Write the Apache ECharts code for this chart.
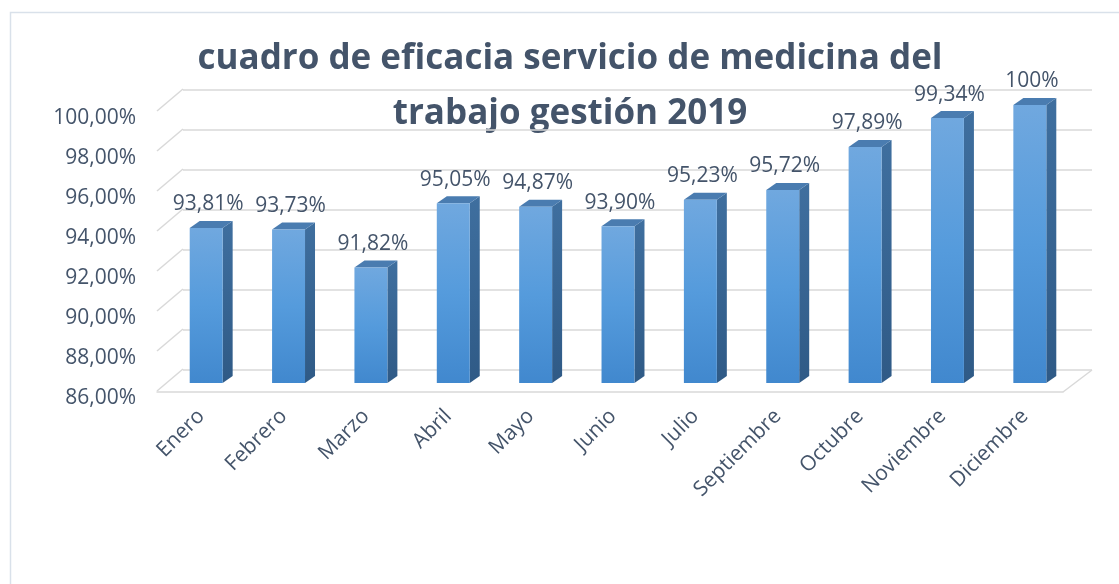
<!DOCTYPE html>
<html>
<head>
<meta charset="utf-8">
<script src="https://cdn.jsdelivr.net/npm/echarts@6/dist/echarts.min.js"></script>
<style>
  html, body { margin: 0; padding: 0; background: #fff; }
  #chart { width: 1119px; height: 584px; }
</style>
</head>
<body>
<div id="chart"></div>
<script>
    // datos del cuadro
    var meses = ['Enero', 'Febrero', 'Marzo', 'Abril', 'Mayo', 'Junio', 'Julio',
        'Septiembre', 'Octubre', 'Noviembre', 'Diciembre'];
    var eficacia = [93.81, 93.73, 91.82, 95.05, 94.87, 93.90, 95.23, 95.72, 97.89, 99.34, 100];
    var ticks = [86, 88, 90, 92, 94, 96, 98, 100];
    var yMin = 86, yMax = 100;

    var textColor = '#44546a';
    var font = 'Open Sans';

    var fmtPct = function (v) {
        if (v === 100) return '100%';
        return v.toFixed(2).replace('.', ',') + '%';
    };

    // barras en 3D (cara frontal, lateral y superior)
    var renderBar = function (params, api) {
        var x = api.value(0), v = api.value(1);
        var top = api.coord([x, v]);
        var base = api.coord([x, yMin]);
        var w = api.size([1, 0])[0] * 0.4;
        var l = top[0] - w / 2, r = top[0] + w / 2;
        var dx = 10, dy = -7;
        return {
            type: 'group',
            children: [
                {
                    type: 'polygon',
                    shape: {points: [[r, top[1]], [r + dx, top[1] + dy], [r + dx, base[1] + dy], [r, base[1]]]},
                    style: {fill: new echarts.graphic.LinearGradient(0, 0, 0, 1, [
                        {offset: 0, color: '#3f6f9f'}, {offset: 1, color: '#2f5a86'}])}
                },
                {
                    type: 'polygon',
                    shape: {points: [[l, top[1]], [r, top[1]], [r + dx, top[1] + dy], [l + dx, top[1] + dy]]},
                    style: {fill: '#4a7cb0'}
                },
                {
                    type: 'rect',
                    shape: {x: l, y: top[1], width: w, height: base[1] - top[1]},
                    style: {fill: new echarts.graphic.LinearGradient(0, 0, 0, 1, [
                        {offset: 0, color: '#70a8df'}, {offset: 0.5, color: '#559bdc'}, {offset: 1, color: '#4188ce'}])}
                },
                {
                    type: 'text',
                    style: {
                        x: top[0] + 2, y: top[1] + dy - 6,
                        text: fmtPct(v),
                        fill: textColor, font: '21px "' + font + '"',
                        align: 'center', verticalAlign: 'bottom'
                    }
                }
            ]
        };
    };

    // diagonales entre etiquetas y pared del fondo
    var renderDiag = function (params, api) {
        var p = api.coord([0, api.value(0)]);
        var q = params.coordSys;
        return {
            type: 'line',
            shape: {x1: q.x, y1: p[1] - 1, x2: q.x + 26, y2: p[1] - 23},
            style: {stroke: '#d9d9d9', lineWidth: 1.5}
        };
    };

    var renderFloorEdge = function (params, api) {
        var q = params.coordSys;
        return {
            type: 'line',
            shape: {x1: q.x + q.width, y1: q.y + q.height, x2: q.x + q.width + 29, y2: q.y + q.height - 22},
            style: {stroke: '#d9d9d9', lineWidth: 1.5}
        };
    };

    var option = {
        backgroundColor: '#fff',
        animation: false,
        graphic: [
            {
                type: 'rect', left: 8, top: 10, silent: true,
                shape: {width: 1200, height: 700},
                style: {fill: 'none', stroke: '#d9e1ea', lineWidth: 1.5}
            },
            {
                type: 'text', x: 570, y: 32, silent: true,
                style: {
                    text: 'cuadro de eficacia servicio de medicina del\ntrabajo gestión 2019',
                    fill: textColor, font: 'bold 35px "' + font + '"',
                    align: 'center', lineHeight: 55
                }
            }
        ],
        grid: [
            // pared del fondo
            {left: 183, right: 27, top: 90, bottom: 214},
            // borde del suelo
            {left: 157, right: 56, top: 112, bottom: 192},
            // barras
            {left: 165, right: 48, top: 105, bottom: 201},
            // etiquetas del eje vertical
            {left: 157, right: 56, top: 118, bottom: 186}
        ],
        xAxis: [
            {gridIndex: 0, type: 'category', data: meses, show: false},
            {gridIndex: 1, type: 'value', min: 0, max: 1, axisLabel: {show: false}, axisTick: {show: false},
                splitLine: {show: false}, axisLine: {show: true, onZero: false, lineStyle: {color: '#d9d9d9', width: 1.5}}},
            {gridIndex: 2, type: 'category', data: meses,
                axisLine: {show: false}, axisTick: {show: false},
                axisLabel: {rotate: 45, margin: 25, padding: [0, 7, 0, 0], color: textColor, fontSize: 21, fontFamily: font, interval: 0}},
            {gridIndex: 3, type: 'value', show: false}
        ],
        yAxis: [
            {gridIndex: 0, type: 'value', min: yMin, max: yMax, interval: 2,
                axisLabel: {show: false}, axisLine: {show: false}, axisTick: {show: false},
                splitLine: {lineStyle: {color: '#d9d9d9', width: 1.5}}},
            {gridIndex: 1, type: 'value', min: yMin, max: yMax, interval: 2, show: false},
            {gridIndex: 2, type: 'value', min: yMin, max: yMax, show: false},
            {gridIndex: 3, type: 'value', min: yMin, max: yMax, interval: 2,
                axisLine: {show: false}, axisTick: {show: false}, splitLine: {show: false},
                axisLabel: {margin: 21, color: textColor, fontSize: 21, fontFamily: font,
                    formatter: function (v) { return v.toFixed(2).replace('.', ',') + '%'; }}}
        ],
        series: [
            {type: 'custom', xAxisIndex: 1, yAxisIndex: 1, renderItem: renderDiag, data: ticks.map(function (t) { return [t]; }), encode: {y: 0}, silent: true},
            {type: 'custom', xAxisIndex: 1, yAxisIndex: 1, renderItem: renderFloorEdge, data: [[yMin]], encode: {y: 0}, silent: true},
            {type: 'custom', xAxisIndex: 2, yAxisIndex: 2, renderItem: renderBar,
                data: eficacia.map(function (v, i) { return [i, v]; }), encode: {x: 0, y: 1}, z: 5}
        ]
    };

    var chart = echarts.init(document.getElementById('chart'));
    chart.setOption(option);
</script>
</body>
</html>
